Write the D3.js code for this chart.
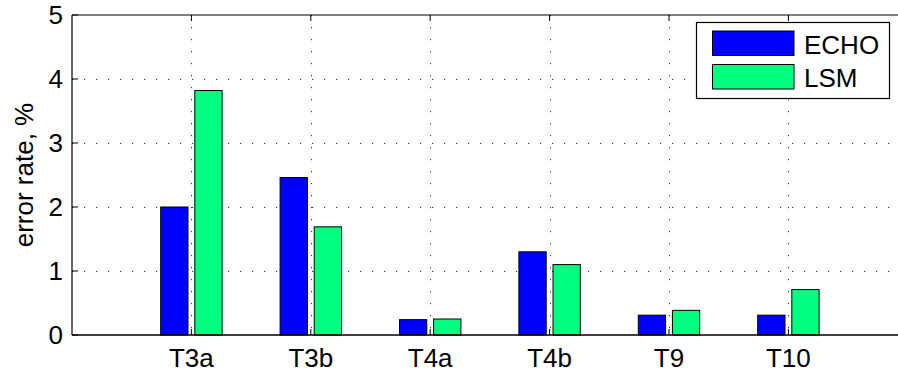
<!DOCTYPE html>
<html>
<head>
<meta charset="utf-8">
<script src="https://cdn.jsdelivr.net/npm/d3@7"></script>
<style>
html,body{margin:0;padding:0;background:#fff;}
svg{display:block;font-family:"Liberation Sans",Arial,Helvetica,sans-serif;}
</style>
</head>
<body>
<svg id="chart" width="898" height="371"></svg>
<script>
const categories = ["T3a","T3b","T4a","T4b","T9","T10"];
const seriesNames = ["ECHO","LSM"];
const echoValues = [2.00, 2.46, 0.24, 1.30, 0.31, 0.31];
const lsmValues = [3.82, 1.69, 0.25, 1.10, 0.385, 0.71];
const yTicks = [0,1,2,3,4,5];
const seriesColors = ["#0000ff","#00ff80"];

(function(){
const svg = d3.select("#chart");
const pLeft = 72, pTop = 15, pBottom = 335, unit = 119.4;
const x = d3.scaleLinear().domain([0, 7]).range([pLeft, pLeft + 7*unit]);
const y = d3.scaleLinear().domain([0, 5]).range([pBottom, pTop]);
const pRight = x(7);
const fontSize = 26;

// grid
const grid = svg.append("g").attr("stroke","#333").attr("stroke-width",1).attr("stroke-dasharray","1.2,10.8");
yTicks.slice(1,5).forEach(t => {
  grid.append("line").attr("x1",pLeft).attr("x2",pRight).attr("y1",Math.round(y(t))+0.5).attr("y2",Math.round(y(t))+0.5);
});
categories.forEach((c,i) => {
  grid.append("line").attr("x1",Math.round(x(i+1))+0.5).attr("x2",Math.round(x(i+1))+0.5).attr("y1",pTop).attr("y2",pBottom);
});

// bars
const offsets = [-0.1429, 0.1429];
const bw = 0.2286;
const allSeries = [echoValues, lsmValues];
allSeries.forEach((vals, s) => {
  svg.append("g").selectAll("rect").data(vals).join("rect")
    .attr("x", (d,i) => x(i+1+offsets[s]-bw/2))
    .attr("width", x(bw) - x(0))
    .attr("y", d => y(d))
    .attr("height", d => y(0) - y(d))
    .attr("fill", seriesColors[s])
    .attr("stroke", "#000")
    .attr("stroke-width", 1);
});

// axes
const axisG = svg.append("g").attr("stroke","#000").attr("fill","none");
axisG.append("line").attr("x1",pLeft).attr("x2",pRight).attr("y1",pBottom).attr("y2",pBottom).attr("stroke-width",1.6);
axisG.append("line").attr("x1",pLeft).attr("x2",pRight).attr("y1",pTop).attr("y2",pTop).attr("stroke-width",1.2);
axisG.append("line").attr("x1",pLeft).attr("x2",pLeft).attr("y1",pTop).attr("y2",pBottom).attr("stroke-width",1.2);
const tl = 6;
yTicks.forEach(t => {
  axisG.append("line").attr("x1",pLeft).attr("x2",pLeft+tl).attr("y1",y(t)).attr("y2",y(t)).attr("stroke-width",1);
});
categories.forEach((c,i) => {
  axisG.append("line").attr("x1",x(i+1)).attr("x2",x(i+1)).attr("y1",pBottom).attr("y2",pBottom-tl).attr("stroke-width",1);
  axisG.append("line").attr("x1",x(i+1)).attr("x2",x(i+1)).attr("y1",pTop).attr("y2",pTop+tl).attr("stroke-width",1);
});

// tick labels
svg.append("g").selectAll("text").data(yTicks).join("text")
  .attr("x", pLeft - 9).attr("y", d => y(d)).attr("dy","0.36em")
  .attr("text-anchor","end").attr("font-size",fontSize).attr("fill","#000")
  .text(d => d);
svg.append("g").selectAll("text").data(categories).join("text")
  .attr("x", (d,i) => x(i+1)).attr("y", 367)
  .attr("text-anchor","middle").attr("font-size",fontSize).attr("fill","#000")
  .text(d => d);

// y label
svg.append("text").attr("transform",`translate(33,${(pTop+pBottom)/2}) rotate(-90)`)
  .attr("text-anchor","middle").attr("font-size",fontSize).attr("fill","#000")
  .text("error rate, %");

// legend
const lg = svg.append("g");
lg.append("rect").attr("x",696.5).attr("y",22.5).attr("width",193).attr("height",76).attr("fill","#fff").attr("stroke","#000").attr("stroke-width",1.2);
seriesNames.forEach((n,s) => {
  const yy = 31 + s*33.5;
  lg.append("rect").attr("x",712.5).attr("y",yy).attr("width",81.5).attr("height",24.5).attr("fill",seriesColors[s]).attr("stroke","#000").attr("stroke-width",1);
  lg.append("text").attr("x",804).attr("y",yy+22.5).attr("font-size",fontSize).attr("fill","#000").text(n);
});
})();
</script>
</body>
</html>
